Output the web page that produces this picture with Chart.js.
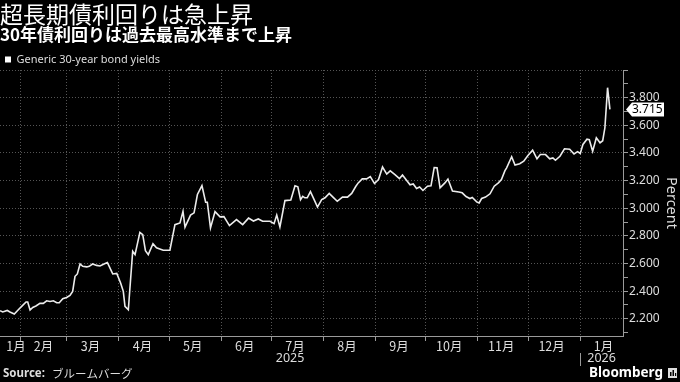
<!DOCTYPE html>
<html>
<head>
<meta charset="utf-8">
<script src="https://cdn.jsdelivr.net/npm/chart.js@4.4.1/dist/chart.umd.min.js"></script>
<style>
html,body{margin:0;padding:0;background:#000;}
canvas{display:block;}
</style>
</head>
<body>
<canvas id="c" width="680" height="382"></canvas>
<script>
// ---- text ----
const titleText = '超長期債利回りは急上昇';
const subtitleText = '30年債利回りは過去最高水準まで上昇';
const seriesName = 'Generic 30-year bond yields';
const yAxisTitle = 'Percent';
const sourceLabel = 'Source:';
const sourceText = 'ブルームバーグ';
const brandText = 'Bloomberg';

// ---- data: day index (days since 2025-01-01) and yield in percent ----
const dayIndex = [19.1,20.7,23.4,25.0,27.6,30.0,32.0,34.6,35.6,37.0,
  38.6,40.5,42.9,44.9,46.9,48.9,50.9,52.9,54.4,56.5,
  58.8,60.8,62.4,63.8,65.2,66.8,68.4,70.8,72.3,74.3,
  76.7,78.7,81.1,83.1,84.2,86.3,88.7,91.0,92.6,93.6,
  95.6,98.2,99.6,102.5,104.2,105.8,107.5,110.3,112.4,116.4,
  120.4,123.4,126.4,128.2,129.4,132.7,134.8,136.8,139.5,141.7,
  142.7,144.6,147.3,150.3,152.6,155.9,160.1,163.8,167.3,170.2,
  173.1,175.7,180.1,182.5,184.1,186.0,189.0,192.5,195.0,196.7,
  198.3,199.6,200.9,202.3,204.2,206.4,208.4,210.9,212.9,215.4,
  217.8,220.2,223.3,226.3,228.8,231.2,232.7,235.1,237.7,239.9,
  242.4,244.8,247.2,249.7,251.8,254.6,257.3,259.1,261.6,263.6,
  265.5,267.5,269.3,271.3,274.0,276.1,278.0,279.7,281.5,284.4,
  286.2,288.9,292.7,294.7,297.0,299.3,300.7,303.5,304.8,306.3,
  308.6,311.3,313.8,316.3,318.1,320.2,321.2,324.2,326.2,329.0,
  331.4,333.9,336.7,339.3,341.3,344.4,346.9,348.8,350.3,353.0,
  355.7,358.8,361.4,363.5,365.1,366.7,369.1,370.5,372.5,374.7,
  376.9,378.5,379.8,381.4,382.8];
const yields = [2.258,2.249,2.260,2.249,2.234,2.265,2.289,2.321,2.321,2.263,
  2.282,2.292,2.311,2.311,2.330,2.325,2.330,2.316,2.316,2.345,
  2.354,2.369,2.398,2.507,2.524,2.596,2.579,2.575,2.579,2.596,
  2.586,2.582,2.596,2.606,2.579,2.524,2.528,2.459,2.398,2.289,
  2.265,2.688,2.664,2.825,2.809,2.693,2.664,2.743,2.714,2.696,
  2.696,2.881,2.893,2.977,2.863,2.950,2.966,3.099,3.164,3.043,
  3.043,2.857,2.975,2.937,2.939,2.874,2.917,2.881,2.928,2.907,
  2.922,2.905,2.905,2.888,2.950,2.864,3.055,3.059,3.162,3.155,
  3.062,3.086,3.075,3.075,3.120,3.062,3.008,3.062,3.075,3.107,
  3.078,3.050,3.080,3.080,3.107,3.157,3.183,3.212,3.212,3.228,
  3.178,3.207,3.298,3.247,3.270,3.243,3.214,3.240,3.200,3.169,
  3.175,3.142,3.153,3.128,3.159,3.162,3.294,3.292,3.147,3.183,
  3.211,3.124,3.117,3.111,3.084,3.070,3.077,3.044,3.038,3.070,
  3.080,3.104,3.159,3.183,3.207,3.272,3.292,3.372,3.312,3.322,
  3.340,3.381,3.420,3.357,3.388,3.388,3.357,3.364,3.347,3.376,
  3.430,3.427,3.392,3.409,3.396,3.461,3.499,3.495,3.412,3.509,
  3.473,3.488,3.582,3.872,3.715];

// ---- tick labels ----
const monthLabels = ['1月','2月','3月','4月','5月','6月','7月','8月','9月','10月','11月','12月','1月'];
const monthLabelDates = [[2025,1,15],[2025,2,15],[2025,3,15],[2025,4,15],[2025,5,15],[2025,6,15],[2025,7,15],
  [2025,8,15],[2025,9,15],[2025,10,15],[2025,11,15],[2025,12,15],[2026,1,15]];
const monthStartDates = [[2025,2,1],[2025,3,1],[2025,4,1],[2025,5,1],[2025,6,1],[2025,7,1],[2025,8,1],
  [2025,9,1],[2025,10,1],[2025,11,1],[2025,12,1],[2026,1,1]];
const yearLabels = ['2025','2026'];
const yearStartDates = [[2025,1,1],[2026,1,1]];
const yTickValues = [2.1,2.2,2.3,2.4,2.5,2.6,2.7,2.8,2.9,3.0,3.1,3.2,3.3,3.4,3.5,3.6,3.7,3.8,3.9,4.0];

// ---- helpers ----
const dayOf = ([y,m,d]) => (Date.UTC(y,m-1,d) - Date.UTC(2025,0,1)) / 86400000;
const X_MIN = 19.07, X_MAX = 390.6;
const Y_MIN = 2.075, Y_MAX = 4.0;
const monthStarts = monthStartDates.map(dayOf);
const monthLabelDays = monthLabelDates.map(dayOf).map((d,i) =>
  i === 0 ? Math.max(d, X_MIN + 9.5) : d);
const yearStarts = yearStartDates.map(dayOf);
const yearLabelDays = yearStarts.map((s,i) => {
  const a = Math.max(s, X_MIN);
  const b = i + 1 < yearStarts.length ? yearStarts[i+1] : X_MAX;
  return (a + b) / 2;
});
const isMajor = v => Math.abs(v*5 - Math.round(v*5)) < 1e-6;

const LATIN = '"Noto Sans", "Noto Sans CJK JP", sans-serif';
const CJK = '"Noto Sans CJK JP", "Noto Sans", sans-serif';
Chart.defaults.font.family = LATIN;
const GRID = '#555555';
const AXIS = '#9a9a9a';
const DASH = [1, 2];

const extras = {
  id: 'extras',
  afterDraw(chart) {
    const {ctx} = chart;
    const ys = chart.scales.y, xy = chart.scales.xy;
    ctx.save();
    // year separator
    const sx = Math.round(xy.getPixelForValue(yearStarts[1])) + 0.5;
    ctx.strokeStyle = AXIS; ctx.lineWidth = 1;
    ctx.beginPath(); ctx.moveTo(sx, xy.top); ctx.lineTo(sx, xy.top + 13); ctx.stroke();
    // last value tag
    const last = yields[yields.length - 1];
    const py = ys.getPixelForValue(last);
    const L = ys.left + 3;
    ctx.fillStyle = '#fff';
    ctx.beginPath();
    ctx.moveTo(L, py); ctx.lineTo(L + 6, py - 7); ctx.lineTo(L + 38, py - 7);
    ctx.lineTo(L + 38, py + 7); ctx.lineTo(L + 6, py + 7); ctx.closePath(); ctx.fill();
    ctx.fillStyle = '#000'; ctx.font = '12px ' + LATIN;
    ctx.textBaseline = 'middle'; ctx.textAlign = 'left';
    ctx.fillText(last.toFixed(3), L + 6, py + 0.5);
    // source
    ctx.fillStyle = '#ddd';
    ctx.font = 'bold 11.5px ' + LATIN;
    ctx.fillText(sourceLabel, 3, 374);
    const w = ctx.measureText(sourceLabel).width;
    ctx.font = '11.5px ' + CJK;
    ctx.fillText(sourceText, 3 + w + 7, 374);
    // brand
    ctx.fillStyle = '#fff';
    ctx.font = 'bold 13.5px ' + LATIN;
    ctx.textAlign = 'right';
    ctx.fillText(brandText, 663, 373);
    ctx.fillStyle = '#ddd';
    ctx.fillRect(668, 368, 9, 10);
    ctx.fillStyle = '#000';
    ctx.fillRect(670, 372, 1.5, 4); ctx.fillRect(672.5, 370, 1.5, 6); ctx.fillRect(675, 373, 1.2, 3);
    ctx.restore();
  }
};

new Chart(document.getElementById('c'), {
  type: 'line',
  data: {
    datasets: [{
      label: seriesName,
      data: dayIndex.map((d, i) => ({x: d, y: yields[i]})),
      borderColor: '#ececec',
      backgroundColor: '#ffffff',
      borderWidth: 1.6,
      pointRadius: 0,
      tension: 0,
      xAxisID: 'x',
      yAxisID: 'y'
    }]
  },
  options: {
    responsive: false,
    animation: false,
    events: [],
    layout: { autoPadding: false, padding: {left: 0, right: 0, top: 0, bottom: 17} },
    scales: {
      x: {
        type: 'linear', position: 'bottom', weight: 0, min: X_MIN, max: X_MAX,
        afterBuildTicks: s => { s.ticks = monthStarts.map(v => ({value: v})); },
        afterFit: s => { s.height = 5; },
        ticks: { display: false, autoSkip: false },
        grid: { color: GRID, lineWidth: 1, drawTicks: true, tickLength: 5, tickColor: AXIS,
          borderDash: DASH, tickBorderDash: [] },
        border: { display: true, color: AXIS, width: 1, dash: DASH }
      },
      xm: {
        type: 'linear', position: 'bottom', weight: 1, min: X_MIN, max: X_MAX,
        afterBuildTicks: s => { s.ticks = monthLabelDays.map(v => ({value: v})); },
        afterFit: s => { s.height = 12; },
        ticks: { callback: (v, i) => monthLabels[i], color: '#ddd', autoSkip: false, maxRotation: 0,
          padding: -1, font: { size: 12.5, family: CJK, lineHeight: 1.0 } },
        grid: { display: false, drawTicks: false },
        border: { display: false }
      },
      xy: {
        type: 'linear', position: 'bottom', weight: 2, min: X_MIN, max: X_MAX,
        afterBuildTicks: s => { s.ticks = yearLabelDays.map(v => ({value: v})); },
        afterFit: s => { s.height = 12; },
        ticks: { callback: (v, i) => yearLabels[i], color: '#ddd', autoSkip: false, maxRotation: 0,
          padding: -0.5, font: { size: 12.5, lineHeight: 1.0 } },
        grid: { display: false, drawTicks: false },
        border: { display: false }
      },
      y: {
        type: 'linear', position: 'right', min: Y_MIN, max: Y_MAX,
        afterBuildTicks: s => { s.ticks = yTickValues.map(v => ({value: v})); },
        afterFit: s => { s.width = 57; },
        ticks: {
          callback: v => (isMajor(v) && v < 3.95) ? v.toFixed(3) : '',
          color: '#ddd', padding: 1, autoSkip: false, font: { size: 12 }
        },
        grid: {
          color: c => (c.tick && isMajor(c.tick.value)) ? GRID : 'rgba(0,0,0,0)',
          tickColor: AXIS, tickLength: 5, lineWidth: 1, borderDash: DASH, tickBorderDash: []
        },
        border: { display: true, color: AXIS, width: 1, dash: DASH },
        title: { display: true, text: yAxisTitle, color: '#ddd', font: { size: 14.5 }, padding: {top: 0, bottom: 0} }
      }
    },
    plugins: {
      title: {
        display: true, text: titleText, align: 'start', color: '#fff',
        font: { family: CJK, size: 23, weight: 'normal', lineHeight: 1.0 },
        padding: { top: 2.5, bottom: 0 }
      },
      subtitle: {
        display: true, text: subtitleText, align: 'start', color: '#fff',
        font: { family: CJK, size: 17, weight: 'bold', lineHeight: 1.0 },
        padding: { top: 1, bottom: 5.5 }
      },
      legend: {
        display: true, position: 'top', align: 'start', maxHeight: 21,
        labels: {
          boxWidth: 6, boxHeight: 6, padding: 5, color: '#ddd', font: { size: 11 },
          generateLabels: () => [{ text: seriesName, fillStyle: '#fff', strokeStyle: '#fff', lineWidth: 0,
            fontColor: '#ddd', hidden: false, datasetIndex: 0 }]
        }
      },
      tooltip: { enabled: false }
    }
  },
  plugins: [extras]
});
</script>
</body>
</html>
